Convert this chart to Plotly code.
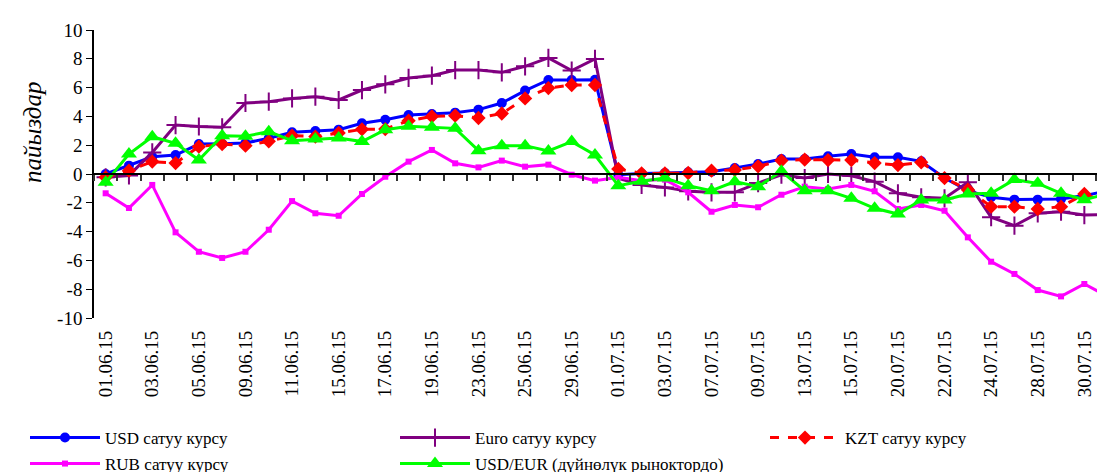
import plotly.graph_objects as go

dates = ["01.06.15", "02.06.15", "03.06.15", "04.06.15", "05.06.15", "08.06.15", "09.06.15",
         "10.06.15", "11.06.15", "12.06.15", "15.06.15", "16.06.15", "17.06.15", "18.06.15",
         "19.06.15", "22.06.15", "23.06.15", "24.06.15", "25.06.15", "26.06.15", "29.06.15",
         "30.06.15", "01.07.15", "02.07.15", "03.07.15", "06.07.15", "07.07.15", "08.07.15",
         "09.07.15", "10.07.15", "13.07.15", "14.07.15", "15.07.15", "16.07.15", "20.07.15",
         "21.07.15", "22.07.15", "23.07.15", "24.07.15", "27.07.15", "28.07.15", "29.07.15",
         "30.07.15", "31.07.15"]

usd = [0.0, 0.58, 1.2, 1.32, 2.08, 2.1, 2.15, 2.48, 2.9, 2.98, 3.08, 3.52,
       3.77, 4.1, 4.17, 4.26, 4.47, 4.93, 5.79, 6.53, 6.53, 6.55, -0.05, 0.04, 0.07, 0.12, 0.16, 0.42,
       0.69, 1.04, 1.04, 1.23, 1.39, 1.16, 1.16, 0.88, -0.28, -1.16, -1.62, -1.78, -1.78, -1.74, -1.5, -1.16]

euro = [-0.23, -0.1, 1.5, 3.4, 3.3, 3.24, 4.93, 5.02, 5.25, 5.37, 5.14, 5.83,
        6.23, 6.67, 6.83, 7.22, 7.22, 7.06, 7.48, 8.06, 7.18, 7.99, -0.3, -0.76, -0.93, -1.2, -1.27, -1.27,
        -0.63, -0.05, -0.28, 0.0, -0.12, -0.53, -1.34, -1.62, -1.69, -0.58, -3.0, -3.59, -2.73, -2.62, -2.85, -2.8]

kzt = [-0.23, 0.23, 0.86, 0.76, 1.9, 2.08, 1.97, 2.27, 2.66, 2.6, 2.85, 3.1,
       3.12, 3.7, 4.0, 4.05, 3.89, 4.2, 5.25, 5.97, 6.18, 6.18, 0.35, 0.04, 0.04, 0.07, 0.23, 0.28,
       0.53, 0.93, 1.0, 0.97, 0.97, 0.76, 0.62, 0.81, -0.28, -1.09, -2.27, -2.27, -2.43, -2.27, -1.39, -1.97]

rub = [-1.34, -2.36, -0.76, -4.05, -5.4, -5.83, -5.4, -3.87, -1.88, -2.73, -2.9, -1.39,
       -0.19, 0.86, 1.67, 0.74, 0.46, 0.93, 0.51, 0.65, -0.05, -0.46, -0.23, -0.46, -0.39, -1.27, -2.62, -2.15,
       -2.31, -1.44, -0.88, -1.04, -0.76, -1.2, -2.43, -2.15, -2.55, -4.4, -6.09, -6.94, -8.06, -8.5, -7.64, -8.5]

usdeur = [-0.58, 1.39, 2.59, 2.13, 0.97, 2.66, 2.62, 2.94, 2.31, 2.43, 2.5, 2.25,
          3.08, 3.31, 3.24, 3.17, 1.62, 1.97, 1.97, 1.6, 2.25, 1.32, -0.81, -0.51, -0.28, -0.81, -1.16, -0.53,
          -0.88, 0.19, -1.16, -1.16, -1.69, -2.38, -2.78, -1.8, -1.8, -1.39, -1.34, -0.39, -0.65, -1.34, -1.78, -1.39]

tick_dates = dates[::2]
yticks = [-10, -8, -6, -4, -2, 0, 2, 4, 6, 8, 10]
yticktext = [str(v) for v in yticks]

FONT = "Liberation Serif, Times New Roman, serif"

fig = go.Figure()

fig.add_trace(go.Scatter(x=dates, y=usd, name="USD сатуу курсу", mode="lines+markers",
                         line=dict(color="#0000FF", width=3),
                         marker=dict(symbol="circle", size=10, color="#0000FF"),
                         cliponaxis=False, legend="legend"))
fig.add_trace(go.Scatter(x=dates, y=euro, name="Euro сатуу курсу", mode="lines+markers",
                         line=dict(color="#800080", width=3),
                         marker=dict(symbol="cross-thin", size=13, color="#800080",
                                     line=dict(color="#800080", width=2)),
                         cliponaxis=False, legend="legend2"))
fig.add_trace(go.Scatter(x=dates, y=kzt, name="KZT сатуу курсу", mode="lines+markers",
                         line=dict(color="#FF0000", width=3, dash="dash"),
                         marker=dict(symbol="diamond", size=11, color="#FF0000"),
                         cliponaxis=False, legend="legend3"))
fig.add_trace(go.Scatter(x=dates, y=rub, name="RUB сатуу курсу", mode="lines+markers",
                         line=dict(color="#FF00FF", width=3),
                         marker=dict(symbol="square", size=6, color="#FF00FF"),
                         cliponaxis=False, legend="legend4"))
fig.add_trace(go.Scatter(x=dates, y=usdeur, name="USD/EUR (дүйнөлүк рыноктордо)", mode="lines+markers",
                         line=dict(color="#00FF00", width=3),
                         marker=dict(symbol="triangle-up", size=14, color="#00FF00"),
                         cliponaxis=False, legend="legend5"))
# helper trace carrying the categories for the zero-line axis
fig.add_trace(go.Scatter(x=dates, y=[None] * len(dates), xaxis="x2", yaxis="y",
                         showlegend=False, hoverinfo="skip", mode="lines"))

W, H = 1105, 472
ml, mr, mt, mb = 86, 0, 22, 162
xrange_ = [-0.5, 43.23]

legend_common = dict(xref="container", yref="container", orientation="v",
                     font=dict(family=FONT, size=17, color="black"),
                     bgcolor="rgba(0,0,0,0)", itemwidth=70,
                     xanchor="left", yanchor="middle")

row1 = 1 - 430 / H
row2 = 1 - 456 / H

fig.update_layout(
    width=W, height=H,
    margin=dict(l=ml, r=mr, t=mt, b=mb, autoexpand=False),
    paper_bgcolor="white", plot_bgcolor="white",
    font=dict(family=FONT, color="black"),
    xaxis=dict(type="category", categoryorder="array", categoryarray=dates,
               range=xrange_, showline=False, ticks="", showgrid=False, zeroline=False,
               tickmode="array", tickvals=tick_dates, ticktext=tick_dates,
               tickangle=-90, tickfont=dict(family=FONT, size=19, color="black"),
               ticklabelstandoff=8),
    xaxis2=dict(type="category", categoryorder="array", categoryarray=dates,
                range=xrange_, overlaying="x", anchor="free", position=0.5,
                showline=True, linecolor="black", linewidth=1.5,
                ticks="outside", tickson="boundaries", ticklen=6, tickcolor="#333333",
                tickwidth=1.5, showticklabels=False, showgrid=False, zeroline=False),
    yaxis=dict(range=[-10, 10], tickmode="array", tickvals=yticks, ticktext=yticktext,
               showline=True, linecolor="black", linewidth=1.5, ticks="outside",
               ticklen=6, tickcolor="black", showgrid=False, zeroline=False,
               tickfont=dict(family=FONT, size=19, color="black")),
    legend=dict(x=17 / W, y=row1, **legend_common),
    legend2=dict(x=387 / W, y=row1, **legend_common),
    legend3=dict(x=757 / W, y=row1, **legend_common),
    legend4=dict(x=17 / W, y=row2, **legend_common),
    legend5=dict(x=387 / W, y=row2, **legend_common),
    annotations=[dict(text="<i>пайыздар</i>", textangle=-90, xref="paper", yref="paper",
                      x=(24 - ml) / (W - ml - mr), y=1 - (124 - mt) / (H - mt - mb),
                      xanchor="center", yanchor="middle", showarrow=False,
                      font=dict(family=FONT, size=25, color="black"))],
)

fig.write_html("out.html")
